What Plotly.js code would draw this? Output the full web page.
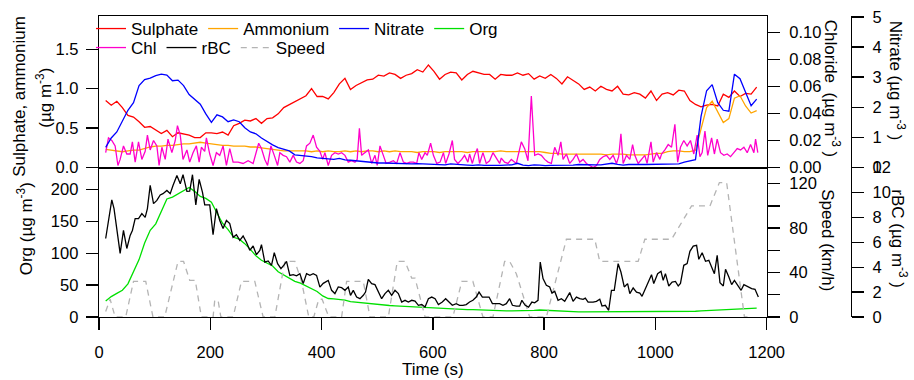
<!DOCTYPE html>
<html><head><meta charset="utf-8">
<script src="https://cdn.plot.ly/plotly-3.0.1.min.js"></script>
<style>html,body{margin:0;padding:0;background:#fff}#chart{width:914px;height:380px}</style>
</head><body><div id="chart"></div>
<script>
// ---------- data ----------
const time = [12,22,32,42,52,62,72,82,92,102,112,122,132,142,152,162,172,182,192,202,212,222,232,242,252,262,272,282,292,302,312,322,332,342,352,362,372,382,392,
402,412,422,432,442,452,462,472,482,492,502,512,522,532,542,552,562,572,582,592,602,612,622,632,642,652,662,672,682,692,702,712,722,732,742,752,762,772,782,792,802,
812,822,832,842,852,862,872,882,892,902,912,922,932,942,952,962,972,982,992,1002,1012,1022,1032,1042,1052,1062,1072,1082,1092,1102,1112,1122,1132,1142,1152,1162,1172,1182];

const sulphate = [0.85,0.79,0.84,0.76,0.66,0.64,0.58,0.51,0.52,0.48,0.43,0.47,0.39,0.44,0.42,0.41,0.38,0.38,0.44,0.44,0.43,0.45,0.41,0.53,0.56,0.60,0.59,0.62,0.56,0.62,0.63,0.68,0.76,0.80,0.84,0.87,0.91,1.00,0.90,
0.90,0.87,0.95,1.06,1.13,0.99,1.04,1.07,1.11,1.12,1.17,1.16,1.20,1.18,1.13,1.17,1.19,1.24,1.21,1.30,1.22,1.12,1.18,1.21,1.20,1.11,1.18,1.22,1.20,1.18,1.18,1.12,1.18,1.17,1.17,1.20,1.17,1.19,1.12,1.16,1.13,
1.18,1.13,1.06,1.15,1.10,1.06,0.99,1.02,0.97,1.03,0.99,0.97,1.03,0.93,0.92,0.95,0.93,0.88,0.97,0.85,0.93,0.95,0.92,0.98,0.97,0.85,0.80,0.77,0.79,0.80,0.78,0.93,0.89,0.97,0.90,0.94,0.93,1.02];

const ammonium = [0.23,0.22,0.21,0.20,0.21,0.22,0.22,0.24,0.26,0.27,0.27,0.28,0.28,0.29,0.30,0.30,0.31,0.32,0.31,0.30,0.29,0.28,0.28,0.27,0.27,0.27,0.26,0.26,0.25,0.24,0.23,0.22,0.21,0.21,0.21,0.21,0.21,0.20,0.21,
0.20,0.21,0.20,0.20,0.21,0.20,0.21,0.20,0.21,0.21,0.20,0.21,0.20,0.21,0.20,0.20,0.20,0.19,0.20,0.20,0.20,0.19,0.20,0.20,0.20,0.20,0.19,0.20,0.20,0.20,0.20,0.20,0.21,0.20,0.20,0.20,0.20,0.20,0.20,0.20,0.19,
0.18,0.18,0.17,0.17,0.17,0.17,0.17,0.17,0.17,0.17,0.16,0.17,0.17,0.17,0.16,0.16,0.16,0.16,0.17,0.18,0.18,0.20,0.21,0.21,0.20,0.20,0.22,0.50,0.76,0.84,0.70,0.57,0.62,0.88,0.91,0.78,0.69,0.72];

const nitrate = [0.67,0.98,1.18,1.52,1.90,2.15,2.72,2.92,2.97,3.05,3.10,3.07,2.88,2.90,2.72,2.42,2.25,2.10,1.78,1.50,1.75,1.68,1.52,1.58,1.52,1.32,1.18,1.12,0.98,0.85,0.75,0.66,0.60,0.55,0.42,0.40,0.39,0.36,0.32,
0.30,0.30,0.27,0.30,0.25,0.24,0.22,0.19,0.17,0.16,0.15,0.15,0.14,0.13,0.12,0.12,0.12,0.13,0.12,0.10,0.09,0.10,0.09,0.12,0.10,0.09,0.08,0.07,0.09,0.07,0.08,0.07,0.07,0.08,0.09,0.14,0.08,0.06,0.09,0.08,0.06,
0.07,0.07,0.07,0.08,0.08,0.10,0.09,0.08,0.09,0.09,0.12,0.14,0.10,0.08,0.10,0.09,0.10,0.10,0.10,0.10,0.12,0.12,0.11,0.12,0.18,0.23,0.26,1.70,2.55,2.75,2.15,1.90,1.87,3.10,2.95,2.50,2.05,2.27];

const org = [25,32,37,42,52,70,90,116,136,146,166,185,188,193,197,203,197,189,186,180,163,147,137,125,122,115,106,96,89,84,80,71,66,60,56,53,49,45,40,
33,29,28.5,28,26.5,24,23,22.5,22,21,20,18.5,18,17.5,17,16.5,16,16,15.5,15,14,13,12.5,12,12,12,11.5,11.5,11,10.5,10.5,10,9.5,9.5,9.5,9.5,10,10,10.5,11,10.5,
9.5,9,8.5,8,8,8,8,8,8.5,9,9,9,9,9,9,9,9,8.5,8.5,8.5,8,8,8,8,8.5,9,9,9.5,10,10,10.5,11,11.5,12,12.5,13,13.5,14];

const rbcTime = [12,17,23,27,32,38,44,50,56,60,65,71,77,83,87,92,98,104,110,115,122,128,133,140,146,151,158,163,168,174,180,186,190,199,205,211,217,223,229,235,241,247,253,259,265,271,277,283,289,292,298,304,310,315,321,327,333,337,343,349,355,361,367,373,379,385,391,
397,403,412,418,424,430,436,442,448,452,457,463,469,475,479,484,490,496,502,508,514,520,526,532,538,544,550,556,562,568,574,580,586,592,598,604,610,617,623,629,635,642,648,654,660,666,672,678,683,689,695,701,707,714,720,726,732,738,743,750,756,760,766,772,778,783,789,793,798,804,
810,814,819,825,831,837,842,846,852,858,864,870,874,879,888,894,900,904,910,916,921,926,933,938,944,950,954,960,966,972,976,982,988,993,997,1004,1010,1014,1018,1024,1030,1036,1041,1045,1051,1057,1062,1068,1074,1078,1084,1090,1096,1101,1106,1111,1116,1122,1126,1132,1137,1142,1148,1154,1159,1166,1173,1179,1185];
const rbc = [6.3,7.9,9.4,8.7,7.1,5.1,6.95,5.5,6.55,6.95,7.9,7.9,8.3,8.0,8.7,10.56,9.1,9.36,9.8,9.9,10.16,9.9,10.56,11.36,10.7,11.42,10.08,10.1,11.42,9.0,11.04,10.0,9.0,9.0,6.6,8.7,7.75,7.1,7.75,7.5,6.4,6.6,6.15,6.5,6.0,5.35,5.7,5.0,5.35,5.8,4.4,4.5,4.15,5.16,4.28,3.88,4.2,4.47,3.34,3.4,3.3,3.48,2.68,3.48,3.34,3.48,3.34,
2.4,2.7,2.94,2.14,1.88,2.41,2.35,2.14,2.4,1.74,2.14,1.6,1.47,1.74,2.0,3.02,2.68,2.6,2.0,1.47,1.88,2.14,1.74,2.14,1.88,1.2,1.34,1.2,1.34,1.27,0.94,1.0,0.8,1.47,1.6,1.47,1.0,1.2,1.47,1.2,0.94,1.07,0.94,0.94,1.0,1.2,1.34,1.6,2.0,1.6,1.6,1.6,1.07,1.07,1.07,0.94,1.07,1.47,0.94,0.87,0.87,1.34,0.94,0.8,1.2,1.14,1.34,4.41,3.08,2.54,
2.41,1.92,2.06,1.34,1.47,1.26,1.6,1.96,1.26,1.6,1.47,1.42,1.52,1.2,1.2,1.26,1.42,0.88,0.94,0.54,2.14,2.14,4.28,3.61,2.41,2.68,1.88,2.33,2.0,1.92,1.66,2.28,2.86,3.4,2.68,3.48,3.67,2.94,3.48,2.49,2.81,2.86,2.49,2.7,4.15,4.28,5.27,5.69,5.75,4.63,5.16,4.47,4.55,4.01,3.48,4.95,2.76,2.49,3.83,3.21,2.6,2.94,2.54,2.14,2.6,2.41,2.28,2.22,1.6];

const chlTime = [12,17,23,29,34,38,44,50,56,60,65,71,77,83,87,92,98,104,108,113,119,124,131,137,141,146,151,158,163,169,175,180,184,190,193,199,205,211,217,223,229,235,241,250,259,268,277,283,287,292,298,303,309,315,321,325,331,337,343,349,355,361,367,373,379,385,391,397,
402,406,412,418,424,430,436,442,448,454,460,464,468,472,478,484,490,496,500,505,511,516,523,529,535,541,547,553,559,565,571,575,580,586,590,596,601,607,613,619,623,629,635,639,645,652,657,663,666,671,675,680,684,690,696,702,708,714,720,723,729,735,741,750,759,765,771,777,783,789,795,801,807,
813,819,825,830,834,840,846,852,858,864,870,876,882,888,894,900,906,912,918,924,930,934,938,942,948,954,959,963,969,975,981,985,992,996,1002,1008,1011,1017,1023,1029,1035,1040,1045,1051,1057,1063,1069,1075,1080,1084,1089,1094,1101,1106,1111,1117,1123,1129,1135,1141,1147,1153,1159,1165,1171,1177,1180,1184];
const chl = [0.011,0.022,0.020,0.016,0.0015,0.006,0.016,0.010,0.010,0.019,0.004,0.019,0.006,0.012,0.024,0.013,0.020,0.016,0.0015,0.015,0.006,0.021,0.011,0.020,0.031,0.024,0.006,0.013,0.004,0.011,0.016,0.004,0.015,0.012,0.022,0.010,0.0015,0.011,0.009,0.016,0.0015,0.014,0.004,0.004,0.003,0.005,0.003,0.011,0.018,0.014,0.006,0.0015,0.016,0.009,0.0015,0.011,0.009,0.008,0.004,0.009,0.004,0.003,0.005,0.016,0.018,0.024,0.015,0.012,
0.006,0.011,0.0015,0.009,0.011,0.010,0.011,0.009,0.004,0.005,0.004,0.006,0.029,0.009,0.011,0.013,0.003,0.009,0.0015,0.016,0.009,0.003,0.004,0.005,0.003,0.011,0.004,0.003,0.004,0.004,0.003,0.011,0.006,0.011,0.009,0.018,0.009,0.003,0.004,0.011,0.003,0.010,0.020,0.006,0.003,0.006,0.009,0.004,0.010,0.003,0.009,0.014,0.003,0.011,0.003,0.005,0.011,0.007,0.003,0.007,0.004,0.003,0.006,0.003,0.019,0.014,0.005,0.053,0.009,0.010,0.009,0.006,0.004,
0.003,0.015,0.009,0.019,0.006,0.010,0.003,0.006,0.010,0.004,0.006,0.003,0.0015,0.0,0.0015,0.006,0.008,0.009,0.006,0.009,0.003,0.008,0.025,0.003,0.009,0.006,0.017,0.009,0.003,0.006,0.009,0.003,0.019,0.004,0.011,0.006,0.010,0.013,0.017,0.015,0.032,0.004,0.015,0.020,0.016,0.020,0.010,0.024,0.008,0.011,0.027,0.009,0.022,0.010,0.021,0.011,0.009,0.010,0.008,0.011,0.014,0.013,0.015,0.011,0.017,0.011,0.021,0.011];

const speedTime = [12,20,29,48,62,84,97,118,142,152,163,173,184,205,208,214,219,241,256,280,295,316,334,352,364,377,386,395,401,413,436,445,475,487,520,536,550,562,568,586,636,652,672,690,708,729,738,750,774,804,840,891,900,969,981,1029,1065,1098,1115,1128,1160,1172];
const speed = [5,16,0,0,32,32,0,0,50,50,33,33,0,0,15,15,0,0,32,32,0,0,50,50,32,0,0,16,16,0,0,32,32,0,0,50,50,35,35,0,0,32,32,0,0,50,50,39,0,0,70,70,50,50,70,70,100,100,121,121,0,0];

// ---------- layout helpers ----------
const W = 914, H = 380, ML = 99, MR = 40, MT = 15, MB = 63;
const PW = W - ML - MR, PH = H - MT - MB;
const px = v => (v - ML) / PW;
const py = v => (H - MB - v) / PH;
const xEnd = px(766.7), freePos = px(851), split = py(167);
const FONT = 'Liberation Sans, Arial, Helvetica, sans-serif';
const LW = 1.3;

const axBase = {showline: true, linecolor: '#000', linewidth: 1.3, ticks: 'outside', ticklen: 12,
  tickwidth: 1.3, tickcolor: '#000', showgrid: false, zeroline: false,
  tickfont: {family: FONT, size: 16.5, color: '#000'}, fixedrange: true};

const traces = [
  {x: time, y: sulphate, name: 'Sulphate', xaxis: 'x2', yaxis: 'y4', mode: 'lines', line: {color: '#ff0000', width: LW}, legend: 'legend'},
  {x: time, y: ammonium, name: 'Ammonium', xaxis: 'x2', yaxis: 'y4', mode: 'lines', line: {color: '#ffa500', width: LW}, legend: 'legend'},
  {x: time, y: nitrate, name: 'Nitrate', xaxis: 'x2', yaxis: 'y6', mode: 'lines', line: {color: '#0000ff', width: LW}, legend: 'legend'},
  {x: time, y: org, name: 'Org', xaxis: 'x', yaxis: 'y', mode: 'lines', line: {color: '#00e000', width: LW}, legend: 'legend'},
  {x: chlTime, y: chl, name: 'Chl', xaxis: 'x2', yaxis: 'y5', mode: 'lines', line: {color: '#ff00cc', width: LW}, legend: 'legend2'},
  {x: rbcTime, y: rbc, name: 'rBC', xaxis: 'x', yaxis: 'y3', mode: 'lines', line: {color: '#000000', width: LW}, legend: 'legend2'},
  {x: speedTime, y: speed, name: 'Speed', xaxis: 'x', yaxis: 'y2', mode: 'lines', line: {color: '#b4b4b4', width: LW, dash: '6px,5px'}, legend: 'legend2'}
];

const legBase = {orientation: 'h', xanchor: 'left', yanchor: 'middle', bgcolor: 'rgba(0,0,0,0)', borderwidth: 0,
  font: {family: FONT, size: 17, color: '#000'}, itemwidth: 30, traceorder: 'normal'};

function ann(text, x, y, angle, size) {
  return {text: text, xref: 'paper', yref: 'paper', x: px(x), y: py(y), xanchor: 'center', yanchor: 'middle',
    showarrow: false, textangle: angle, font: {family: FONT, size: size || 17, color: '#000'}};
}

const layout = {
  width: W, height: H, margin: {l: ML, r: MR, t: MT, b: MB}, paper_bgcolor: '#fff', plot_bgcolor: 'rgba(0,0,0,0)',
  showlegend: true,
  legend: Object.assign({}, legBase, {x: px(91), y: py(29)}),
  legend2: Object.assign({}, legBase, {x: px(91), y: py(48)}),
  xaxis: Object.assign({}, axBase, {domain: [0, xEnd], anchor: 'y', range: [0, 1200], dtick: 200, tick0: 0, ticklabelstandoff: 8}),
  xaxis2: Object.assign({}, axBase, {domain: [0, xEnd], anchor: 'y4', range: [0, 1200], matches: 'x', ticks: '', showticklabels: false, mirror: true}),
  yaxis: Object.assign({}, axBase, {domain: [0, split], anchor: 'x', range: [0, 234.4], dtick: 50, tick0: 0, ticklabelstandoff: 4}),
  yaxis2: Object.assign({}, axBase, {overlaying: 'y', anchor: 'x', side: 'right', range: [0, 134.6], dtick: 40, tick0: 0, ticklabelstandoff: 6,
    minor: {dtick: 20, ticks: 'outside', ticklen: 12, tickwidth: 1.3, tickcolor: '#000'}}),
  yaxis3: Object.assign({}, axBase, {overlaying: 'y', anchor: 'free', position: freePos, side: 'right', range: [0, 12], dtick: 2, tick0: 0, ticklabelstandoff: 5}),
  yaxis4: Object.assign({}, axBase, {domain: [split, 1], anchor: 'x2', range: [0, 1.921], dtick: 0.5, tick0: 0, tickformat: '.1f', ticklabelstandoff: 4}),
  yaxis5: Object.assign({}, axBase, {overlaying: 'y4', anchor: 'x2', side: 'right', range: [0, 0.1123], dtick: 0.02, tick0: 0, tickformat: '.2f', ticklabelstandoff: 6}),
  yaxis6: Object.assign({}, axBase, {overlaying: 'y4', anchor: 'free', position: freePos, side: 'right', range: [0, 5.03], dtick: 1, tick0: 0, ticklabelstandoff: 5}),
  annotations: [
    ann('Sulphate, ammonium', 20, 96, -90),
    ann('(µg m<sup>-3</sup>)', 44, 97, -90),
    ann('Org (µg m<sup>-3</sup>)', 25, 229, -90),
    ann('Chloride  (µg m<sup>-3</sup> )', 832, 88, 90),
    ann('Nitrate (µg m<sup>-3</sup> )', 897, 80, 90),
    ann('Speed (km/h)', 828, 240, 90),
    ann('rBC (µg m<sup>-3</sup> )', 899, 238, 90),
    ann('Time (s)', 433, 370, 0)
  ]
};

Plotly.newPlot('chart', traces, layout, {displayModeBar: false, staticPlot: true});
</script>
</body></html>
